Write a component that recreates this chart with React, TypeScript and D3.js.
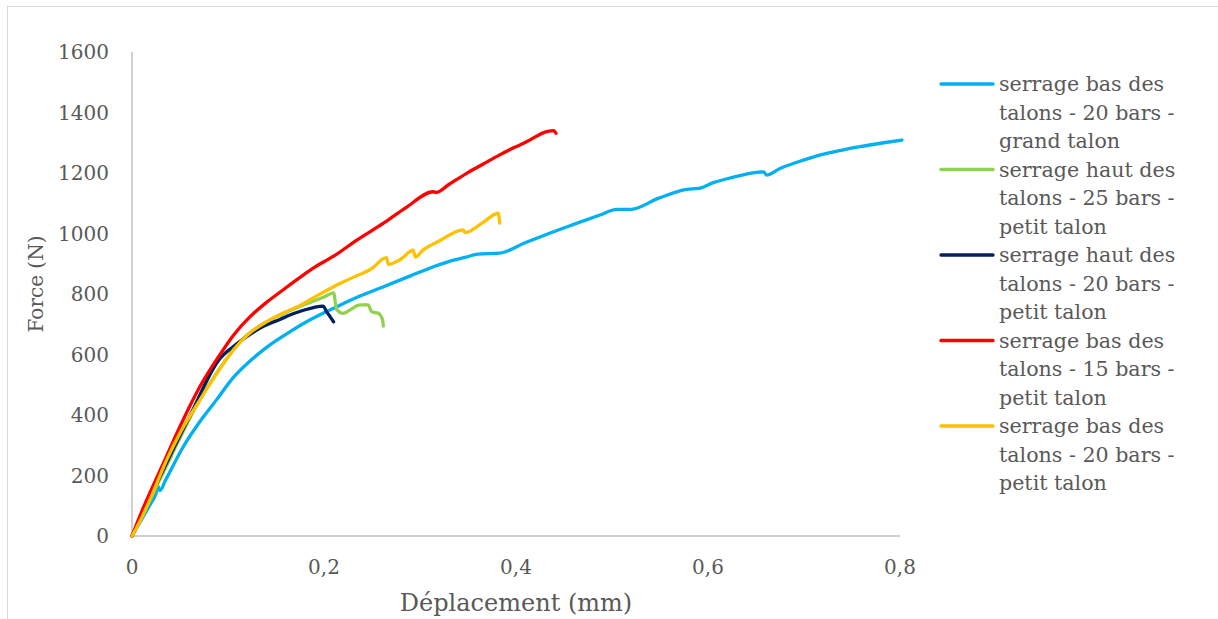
import React from "react";
import * as d3 from "d3";

type Pt = [number, number];

const xTicks = [0, 0.2, 0.4, 0.6, 0.8];
const yTicks = [0, 200, 400, 600, 800, 1000, 1200, 1400, 1600];

const seriesNames = [
  "serrage bas des talons - 20 bars - grand talon",
  "serrage haut des talons - 25 bars - petit talon",
  "serrage haut des talons - 20 bars - petit talon",
  "serrage bas des talons - 15 bars - petit talon",
  "serrage bas des talons - 20 bars - petit talon",
];
const legendLines = [
  ["serrage bas des", "talons - 20 bars -", "grand talon"],
  ["serrage haut des", "talons - 25 bars -", "petit talon"],
  ["serrage haut des", "talons - 20 bars -", "petit talon"],
  ["serrage bas des", "talons - 15 bars -", "petit talon"],
  ["serrage bas des", "talons - 20 bars -", "petit talon"],
];
const colors = ["#00B0F0", "#92D050", "#002060", "#FF0000", "#FFC000"];

const blueGrand: Pt[] = [
  [0, 0], [0.01, 55], [0.02, 110], [0.025, 140], [0.027, 165], [0.029, 150], [0.035, 185],
  [0.0534, 295], [0.07, 375], [0.088, 450], [0.105, 522], [0.126, 587], [0.143, 630],
  [0.161, 668], [0.18, 705], [0.2, 738], [0.21, 753], [0.235, 790], [0.262, 824],
  [0.29, 860], [0.314, 890], [0.335, 912], [0.349, 923], [0.36, 932], [0.383, 935],
  [0.41, 970], [0.435, 1001], [0.46, 1030], [0.4875, 1061], [0.505, 1080], [0.52, 1080],
  [0.548, 1116], [0.578, 1146], [0.59, 1149], [0.6055, 1168], [0.625, 1185], [0.644, 1199],
  [0.658, 1204], [0.661, 1193], [0.675, 1215], [0.695, 1238], [0.717, 1260], [0.74, 1276],
  [0.758, 1287], [0.783, 1300], [0.802, 1309],
];

const greenHaut25: Pt[] = [
  [0, 0], [0.02, 128], [0.04, 258], [0.06, 388], [0.08, 500], [0.1, 592], [0.12, 665],
  [0.14, 708], [0.16, 738], [0.18, 765], [0.2, 790], [0.21, 804], [0.213, 750],
  [0.22, 736], [0.227, 747], [0.2375, 764], [0.246, 764], [0.2497, 741], [0.2566, 736],
  [0.261, 714], [0.2618, 694],
];

const navyHaut20: Pt[] = [
  [0, 0], [0.02, 135], [0.04, 268], [0.06, 395], [0.0917, 587], [0.105, 625], [0.1195, 659],
  [0.135, 690], [0.154, 716], [0.17, 737], [0.189, 755], [0.199, 760], [0.203, 740],
  [0.207, 722], [0.21, 708],
];

const redBas15: Pt[] = [
  [0, 0], [0.01, 80], [0.02, 152], [0.036, 264], [0.05, 362], [0.0708, 494], [0.09, 592],
  [0.1055, 663], [0.123, 725], [0.14, 772], [0.158, 815], [0.175, 855], [0.19, 888],
  [0.21, 925], [0.235, 980], [0.262, 1034], [0.285, 1085], [0.314, 1138], [0.317, 1136],
  [0.33, 1162], [0.3486, 1199], [0.365, 1228], [0.383, 1260], [0.398, 1284], [0.411, 1303],
  [0.432, 1337], [0.4396, 1340], [0.4417, 1331],
];

const yellowBas20: Pt[] = [
  [0, 0], [0.01, 60], [0.02, 130], [0.036, 251], [0.05, 340], [0.0708, 450], [0.09, 545],
  [0.1055, 615], [0.123, 672], [0.14, 708], [0.158, 738], [0.175, 762], [0.192, 793],
  [0.21, 824], [0.227, 850], [0.25, 885], [0.265, 920], [0.267, 898], [0.28, 915],
  [0.293, 945], [0.295, 922], [0.303, 945], [0.32, 975], [0.345, 1012], [0.347, 1003],
  [0.365, 1035], [0.3815, 1067], [0.383, 1034],
];

const seriesData = [blueGrand, greenHaut25, navyHaut20, redBas15, yellowBas20];

const FONT = "'DejaVu Serif', serif";
const TEXT = "#595959";

export default function App() {
  const W = 1218;
  const H = 619;
  const x = d3.scaleLinear().domain([0, 0.8]).range([132, 900]);
  const y = d3.scaleLinear().domain([0, 1600]).range([536, 52]);
  const line = d3
    .line<Pt>()
    .x((d) => x(d[0]))
    .y((d) => y(d[1]))
    .curve(d3.curveMonotoneX);
  const fmt = (v: number) => (v === 0 ? "0" : d3.format(".1f")(v).replace(".", ","));

  return (
    <svg
      width={W}
      height={H}
      style={{ position: "absolute", left: 0, top: 0, background: "#fff" }}
    >
      <rect x={7.5} y={6.5} width={1215} height={620} fill="#fff" stroke="#d9d9d9" strokeWidth={1} />
      {/* axes */}
      <line x1={x(0)} x2={x(0)} y1={y(1600)} y2={y(0)} stroke="#bfbfbf" strokeWidth={1.5} />
      <line x1={x(0)} x2={x(0.8)} y1={y(0)} y2={y(0)} stroke="#bfbfbf" strokeWidth={1.5} />
      {yTicks.map((t) => (
        <text
          key={"y" + t}
          x={109}
          y={y(t) + 7}
          textAnchor="end"
          fontFamily={FONT}
          fontSize={20}
          fill={TEXT}
        >
          {t}
        </text>
      ))}
      {xTicks.map((t) => (
        <text
          key={"x" + t}
          x={x(t)}
          y={574}
          textAnchor="middle"
          fontFamily={FONT}
          fontSize={20}
          fill={TEXT}
        >
          {fmt(t)}
        </text>
      ))}
      <text x={516} y={611} textAnchor="middle" fontFamily={FONT} fontSize={24} fill={TEXT}>
        Déplacement (mm)
      </text>
      <text
        transform={`translate(43,284) rotate(-90)`}
        textAnchor="middle"
        fontFamily={FONT}
        fontSize={20}
        fill={TEXT}
      >
        Force (N)
      </text>
      {/* series */}
      {seriesData.map((s, i) => (
        <path
          key={seriesNames[i]}
          d={line(s) || ""}
          fill="none"
          stroke={colors[i]}
          strokeWidth={3.3}
          strokeLinejoin="round"
          strokeLinecap="round"
        />
      ))}
      {/* legend */}
      {legendLines.map((ls, i) => {
        const cy = 84 + i * 85.5;
        return (
          <g key={"lg" + i}>
            <line x1={941} x2={993} y1={cy} y2={cy} stroke={colors[i]} strokeWidth={3.3} strokeLinecap="round" />
            {ls.map((t, j) => (
              <text
                key={j}
                x={999}
                y={cy + 7 + j * 28.5}
                fontFamily={FONT}
                fontSize={20.6}
                fill={TEXT}
              >
                {t}
              </text>
            ))}
          </g>
        );
      })}
    </svg>
  );
}
